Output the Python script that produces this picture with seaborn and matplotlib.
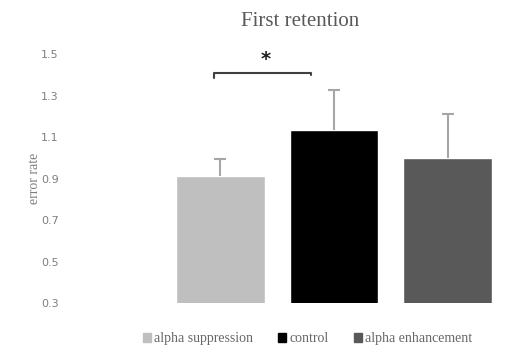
import matplotlib
matplotlib.use("Agg")
import matplotlib.pyplot as plt
import seaborn as sns
import pandas as pd
import numpy as np

conditions = ["alpha suppression", "control", "alpha enhancement"]
error_rate = [0.912, 1.135, 1.0]
error_sem = [0.082, 0.19, 0.21]
yticks = [0.3, 0.5, 0.7, 0.9, 1.1, 1.3, 1.5]
bar_colors = ["#bfbfbf", "#000000", "#595959"]

sns.set_theme(style="white")
plt.rcParams["font.family"] = ["Liberation Serif", "DejaVu Serif"]

df = pd.DataFrame({"condition": conditions, "error_rate": error_rate})

fig = plt.figure(figsize=(5.3, 3.56), dpi=100)
ax = fig.add_axes([0.132, 0.148, 0.82, 0.70])

sns.barplot(data=df, x="condition", y="error_rate", hue="condition",
            palette=bar_colors, width=0.78, dodge=False, legend=False,
            ax=ax, saturation=1)

# upward-only error bars
eb = ax.errorbar(np.arange(len(conditions)), error_rate,
                 yerr=[np.zeros(len(error_sem)), error_sem],
                 fmt="none", ecolor="#a6a6a6", elinewidth=1.5,
                 capsize=4, capthick=1.5)
for cap in eb[1]:
    if np.allclose(cap.get_ydata(), error_rate):
        cap.set_visible(False)

ax.set_ylim(0.3, 1.5)
ax.set_xlim(-1.32, 2.5)
ax.set_yticks(yticks)
ax.set_yticklabels([f"{t:.1f}" for t in yticks], fontfamily="DejaVu Sans",
                   fontsize=8, color="#7f7f7f")
ax.tick_params(axis="y", length=0, pad=8)
ax.set_xticks([])
ax.set_xlabel("")
ax.set_ylabel("error rate", fontsize=10, color="#7f7f7f", labelpad=0)
for s in ax.spines.values():
    s.set_visible(False)

ax.set_title("First retention", fontsize=15, color="#595959", pad=20, x=0.53)

# significance bracket between suppression and control
y_br = 1.41
ax.plot([-0.05, -0.05, 0.8, 0.8], [y_br - 0.025, y_br, y_br, y_br - 0.01],
        color="#404040", lw=1.5, clip_on=False)
ax.text(0.4, y_br + 0.02, "*", ha="center", va="bottom", fontsize=14,
        fontweight="bold", color="#202020", fontfamily="DejaVu Sans")

handles = [plt.Rectangle((0, 0), 1, 1, color=c) for c in bar_colors]
fig.legend(handles, conditions, loc="lower center", bbox_to_anchor=(0.58, -0.005),
           ncol=3, frameon=False, fontsize=10, handlelength=0.6, handleheight=0.6,
           handletextpad=0.2, columnspacing=1.8, labelcolor="#666666")

fig.savefig("out.png", dpi=100)
